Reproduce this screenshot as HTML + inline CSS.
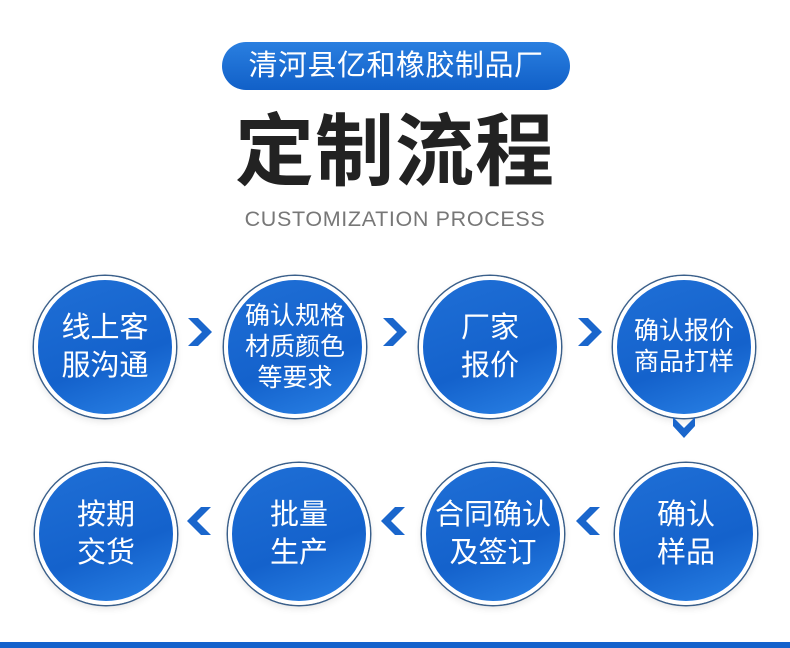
<!DOCTYPE html>
<html><head><meta charset="utf-8"><style>
body{margin:0;width:790px;height:648px;background:#fff;position:relative;overflow:hidden;font-family:"Liberation Sans","Noto Sans CJK SC",sans-serif}
.pill{position:absolute;left:222px;top:42px;width:348px;height:48px;border-radius:24px;background:linear-gradient(180deg,#2a7fe0,#1160c8);color:#fff;font-size:29px;line-height:48px;text-align:center;letter-spacing:0.5px}
.title{position:absolute;left:0;width:790px;top:104px;text-align:center;font-size:79px;font-weight:bold;color:#222;line-height:96px;letter-spacing:1px}
.sub{position:absolute;left:0;width:790px;top:207px;text-align:center;font-size:21.5px;color:#777;letter-spacing:0.65px}
.c{position:absolute;width:134px;height:134px;border-radius:50%;background:linear-gradient(160deg,#1f6fd6,#1462cc 60%,#2a82e6);border:4px solid #fff;box-shadow:0 0 0 1.5px #3a5f8a,0 3px 8px rgba(0,0,0,0.12);color:#fff;display:flex;align-items:center;justify-content:center;text-align:center;font-size:29px;line-height:38px}
.c.s{font-size:25px;line-height:31px}
.bar{position:absolute;left:0;top:642px;width:790px;height:6px;background:#1462cc}
</style></head><body>
<div class="pill">清河县亿和橡胶制品厂</div>
<div class="title">定制流程</div>
<div class="sub">CUSTOMIZATION PROCESS</div>

<div class="c" style="left:34px;top:276px">线上客<br>服沟通</div>
<div class="c s" style="left:224px;top:276px">确认规格<br>材质颜色<br>等要求</div>
<div class="c" style="left:419px;top:276px">厂家<br>报价</div>
<div class="c s" style="left:613px;top:276px">确认报价<br>商品打样</div>

<div class="c" style="left:35px;top:463px">按期<br>交货</div>
<div class="c" style="left:228px;top:463px">批量<br>生产</div>
<div class="c" style="left:422px;top:463px">合同确认<br>及签订</div>
<div class="c" style="left:615px;top:463px">确认<br>样品</div>

<svg style="position:absolute;left:0;top:0" width="790" height="648">
<g fill="#1a66cc">
<polygon points="188,318 198,318 212,332 198,346 188,346 202,332"/>
<polygon points="383,318 393,318 407,332 393,346 383,346 397,332"/>
<polygon points="578,318 588,318 602,332 588,346 578,346 592,332"/>
<polygon points="673,417 684,428 695,417 695,426 684,438 673,426"/>
<polygon points="211,507 201,507 187,521 201,535 211,535 197,521"/>
<polygon points="405,507 395,507 381,521 395,535 405,535 391,521"/>
<polygon points="600,507 590,507 576,521 590,535 600,535 586,521"/>
</g>
</svg>
<div class="bar"></div>
</body></html>
